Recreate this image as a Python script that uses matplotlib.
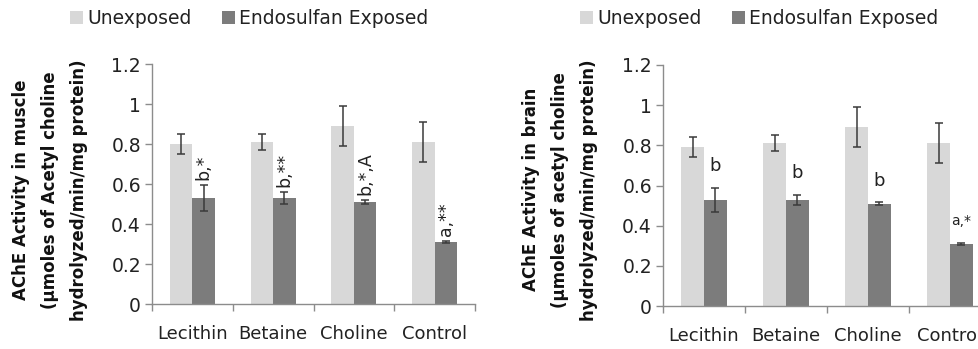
import matplotlib
matplotlib.use("Agg")
import matplotlib.pyplot as plt
import numpy as np

# === Data ===
categories = ["Lecithin", "Betaine", "Choline", "Control"]
series_names = ["Unexposed", "Endosulfan Exposed"]

muscle_unexposed = [0.80, 0.81, 0.89, 0.81]
muscle_unexposed_err = [0.05, 0.04, 0.10, 0.10]
muscle_exposed = [0.53, 0.53, 0.51, 0.31]
muscle_exposed_err = [0.065, 0.03, 0.01, 0.005]
muscle_marks = ["b,*", "b,**", "b,*,A", "a,**"]

brain_unexposed = [0.79, 0.81, 0.89, 0.81]
brain_unexposed_err = [0.05, 0.04, 0.10, 0.10]
brain_exposed = [0.53, 0.53, 0.51, 0.31]
brain_exposed_err = [0.06, 0.025, 0.008, 0.006]
brain_marks = ["b", "b", "b", "a,*"]

y_ticks = [0, 0.2, 0.4, 0.6, 0.8, 1.0, 1.2]
y_tick_labels = ["0", "0.2", "0.4", "0.6", "0.8", "1", "1.2"]

LIGHT = "#d8d8d8"
DARK = "#7c7c7c"
ERR = "#3a3a3a"
AXIS = "#8c8c8c"
TEXT = "#222222"

plt.rcParams["font.family"] = ["DejaVu Sans"]

fig = plt.figure(figsize=(9.79, 3.49), dpi=100)


def draw_panel(rect, unexp, unexp_err, exp, exp_err, marks, rotated, ylabel, label_x, legend_x):
    ax = fig.add_axes(rect)
    x = np.arange(len(categories))
    w = 0.28
    ax.bar(x - w / 2, unexp, w, color=LIGHT, label=series_names[0], zorder=2)
    ax.bar(x + w / 2, exp, w, color=DARK, label=series_names[1], zorder=2)
    ax.errorbar(x - w / 2, unexp, yerr=unexp_err, fmt="none", ecolor=ERR,
                elinewidth=1.1, capsize=3, capthick=1.1, zorder=3)
    ax.errorbar(x + w / 2, exp, yerr=exp_err, fmt="none", ecolor=ERR,
                elinewidth=1.1, capsize=3, capthick=1.1, zorder=3)

    # significance letters above the exposed bars
    for i, txt in enumerate(marks):
        top = exp[i] + exp_err[i]
        if rotated:
            ax.text(x[i] + w / 2, top + 0.025, txt, rotation=90, ha="center",
                    va="bottom", fontsize=12.5, color=TEXT)
        elif txt == "b":
            ax.text(x[i] + w / 2, top + 0.06, txt, ha="center", va="bottom",
                    fontsize=13, color=TEXT)
        else:
            ax.text(x[i] + w / 2, top + 0.07, txt, ha="center", va="bottom",
                    fontsize=10, color=TEXT)

    ax.set_xlim(-0.5, len(categories) - 0.5)
    ax.set_ylim(0, 1.2)
    ax.set_yticks(y_ticks)
    ax.set_yticklabels(y_tick_labels)
    ax.set_xticks(x)
    ax.set_xticklabels(categories)
    ax.set_xticks(np.arange(len(categories) + 1) - 0.5, minor=True)
    ax.tick_params(axis="x", which="major", length=0, pad=15, labelsize=13, colors=TEXT)
    ax.tick_params(axis="x", which="minor", length=5, width=1, color=AXIS, direction="out")
    ax.tick_params(axis="y", length=5, width=1, color=AXIS, pad=3, labelsize=13.5, labelcolor=TEXT)

    for side in ["top", "right"]:
        ax.spines[side].set_visible(False)
    for side in ["left", "bottom"]:
        ax.spines[side].set_color(AXIS)
        ax.spines[side].set_linewidth(1)

    fig.text(label_x, 0.456, ylabel, rotation=90, ha="center", va="center",
             multialignment="center", fontsize=12, fontweight="bold",
             linespacing=1.78, color="#111111")

    ax.legend(loc="center left", bbox_to_anchor=(legend_x, 0.946),
              bbox_transform=fig.transFigure, ncol=2, frameon=False,
              fontsize=13.5, handlelength=0.68, handleheight=0.68,
              handletextpad=0.25, columnspacing=1.6, borderpad=0,
              borderaxespad=0, labelcolor=TEXT)
    return ax


draw_panel([152 / 979, 45 / 349, 323 / 979, 240 / 349],
           muscle_unexposed, muscle_unexposed_err, muscle_exposed, muscle_exposed_err,
           muscle_marks, True,
           "AChE Activity in muscle\n(µmoles of Acetyl choline\nhydrolyzed/min/mg protein)",
           50 / 979, 70 / 979)

# right panel runs past the figure edge, as in the source image
draw_panel([663 / 979, 43 / 349, 328 / 979, 241 / 349],
           brain_unexposed, brain_unexposed_err, brain_exposed, brain_exposed_err,
           brain_marks, False,
           "AChE Activity in brain\n(µmoles of acetyl choline\nhydrolyzed/min/mg protein)",
           560 / 979, 580 / 979)

fig.savefig("out.png", dpi=100)
